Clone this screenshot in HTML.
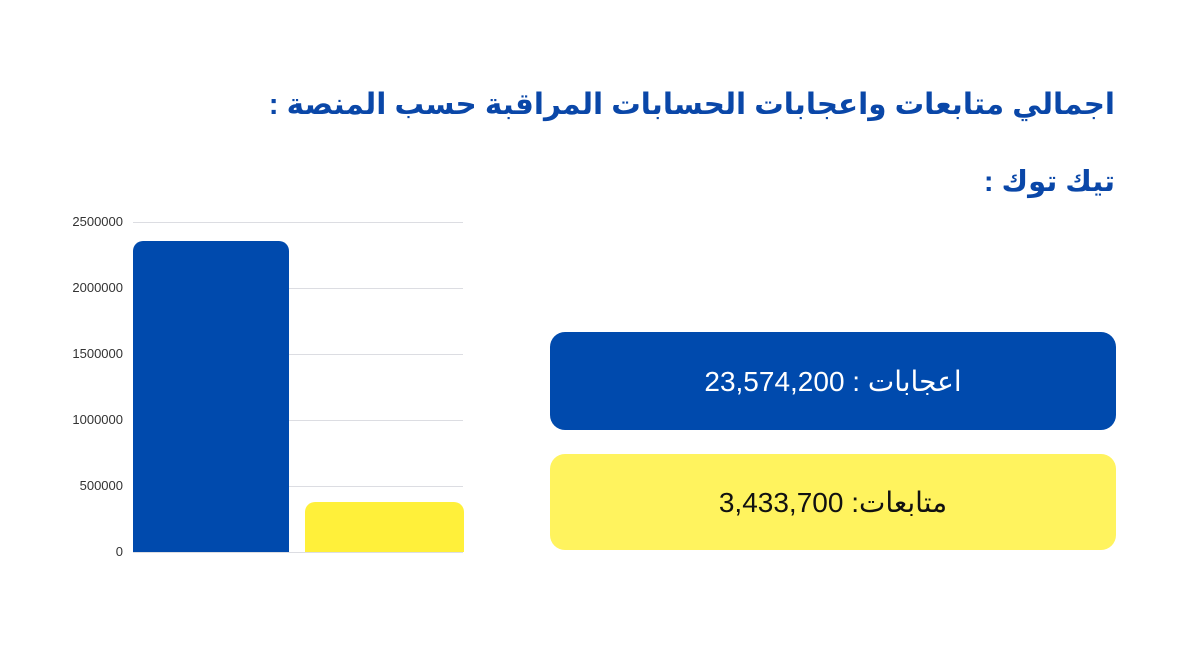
<!DOCTYPE html>
<html><head><meta charset="utf-8"><style>
body{margin:0;width:1200px;height:668px;background:#fff;position:relative;overflow:hidden;font-family:"Liberation Sans","Noto Sans CJK SC","DejaVu Sans",sans-serif}
.t{position:absolute;right:85px;color:#0a47a8;font-weight:bold;direction:rtl;white-space:nowrap}
.box{position:absolute;left:550px;width:566px;border-radius:15px;display:flex;align-items:center;justify-content:center;font-size:28px;direction:rtl}
.yl{position:absolute;right:1077px;font-size:13px;color:#333;text-align:right}
.g{position:absolute;left:133px;width:330px;height:1px;background:#dcdde2}
</style></head><body>
<div class="t" style="top:87px;font-size:29.4px">اجمالي متابعات واعجابات الحسابات المراقبة حسب المنصة :</div>
<div class="t" style="top:164px;font-size:29px">تيك توك :</div>

<div class="g" style="top:222px"></div>
<div class="g" style="top:288px"></div>
<div class="g" style="top:354px"></div>
<div class="g" style="top:420px"></div>
<div class="g" style="top:486px"></div>
<div class="g" style="top:552px"></div>
<div class="yl" style="top:214px">2500000</div>
<div class="yl" style="top:280px">2000000</div>
<div class="yl" style="top:346px">1500000</div>
<div class="yl" style="top:412px">1000000</div>
<div class="yl" style="top:478px">500000</div>
<div class="yl" style="top:544px">0</div>
<div style="position:absolute;left:133px;top:241px;width:156px;height:311px;background:#004aad;border-radius:10px 10px 0 0"></div>
<div style="position:absolute;left:305px;top:502px;width:159px;height:50px;background:#fff03a;border-radius:10px 10px 0 0"></div>

<div class="box" style="top:332px;height:98px;background:#004aad;color:#fff">اعجابات : 23,574,200</div>
<div class="box" style="top:454px;height:96px;background:#fff35e;color:#111">متابعات: 3,433,700</div>
</body></html>
